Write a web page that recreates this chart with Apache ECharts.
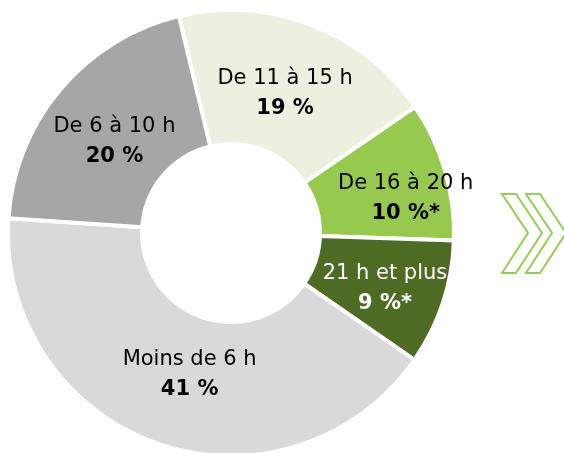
<!DOCTYPE html>
<html>
<head>
<meta charset="utf-8">
<script src="https://cdn.jsdelivr.net/npm/echarts@6/dist/echarts.min.js"></script>
<style>
  html, body { margin: 0; padding: 0; background: #fff; }
  #chart { width: 564px; height: 453px; }
</style>
</head>
<body>
<div id="chart"></div>
<script>
// tranches horaires, dans l'ordre horaire à partir du haut
const categories = ['De 11 à 15 h', 'De 16 à 20 h', '21 h et plus', 'Moins de 6 h', 'De 6 à 10 h'];
const shares = [19, 10, 9, 41, 20];
const notes = ['', '*', '*', '', ''];
const colors = ['#EBF1DE', '#96C94E', '#4E6B24', '#D9D9D9', '#A6A6A6'];
const labelColors = ['#000', '#000', '#fff', '#000', '#000'];

// petits décalages des étiquettes, comme dans l'original
const labelNudge = [[-3, 9], [22, 10], [3, 6], [11, -9], [5, 11]];

const chart = echarts.init(document.getElementById('chart'));

const FONT = '"DejaVu Sans", Verdana, sans-serif';

const data = categories.map((name, i) => ({
  name,
  value: shares[i],
  itemStyle: { color: colors[i] },
  label: {
    rich: {
      n: { color: labelColors[i], fontSize: 21, fontFamily: FONT, lineHeight: 30 },
      v: { color: labelColors[i], fontSize: 21, fontWeight: 'bold', fontFamily: FONT, lineHeight: 30 }
    }
  }
}));

chart.setOption({
  animation: false,
  series: [{
    type: 'pie',
    center: [231, 233],
    radius: [89, 223],
    startAngle: 103.5,
    clockwise: true,
    avoidLabelOverlap: false,
    itemStyle: { borderColor: '#fff', borderWidth: 4 },
    label: {
      show: true,
      position: 'inside',
      formatter: p => `{n|${p.name}}\n{v|${p.value} %${notes[p.dataIndex]}}`,
      align: 'center'
    },
    labelLayout: p => ({ dx: labelNudge[p.dataIndex][0], dy: labelNudge[p.dataIndex][1] }),
    labelLine: { show: false },
    emphasis: { disabled: true },
    data
  }],
  // chevrons décoratifs à droite
  graphic: [0, 24].map(dx => ({
    type: 'polygon',
    shape: {
      points: [[502 + dx, 194], [516 + dx, 194], [542 + dx, 233], [516 + dx, 273], [502 + dx, 273], [528 + dx, 233]]
    },
    style: { fill: 'none', stroke: '#92D050', lineWidth: 2 }
  }))
});
</script>
</body>
</html>
